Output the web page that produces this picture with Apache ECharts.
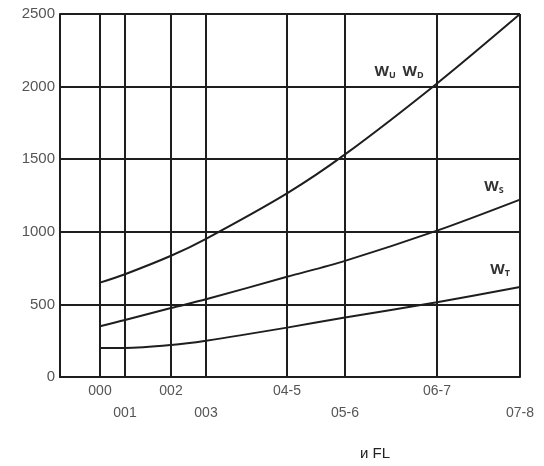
<!DOCTYPE html>
<html>
<head>
<meta charset="utf-8">
<script src="https://cdn.jsdelivr.net/npm/echarts@6/dist/echarts.min.js"></script>
<style>
html,body{margin:0;padding:0;background:#fff}
#chart{width:544px;height:466px}
</style>
</head>
<body>
<div id="chart"></div>
<script>
// x positions of the category lines (arbitrary units)
const tickPos=[40,65,111,146,227,285,377,460]
const tickLabels=['000','001','002','003','04-5','05-6','06-7','07-8']
// curves, values at each tick line
const wuwd=[650,708,835,952,1265,1533,2022,2500]
const ws=[350,392,475,535,690,800,1008,1222]
const wt=[200,200,220,250,340,410,515,620]

const lineColor='#1e1e1e'
const toPairs=arr=>arr.map((v,i)=>[tickPos[i],v])
const subRich={
	w:{fontSize:15,fontWeight:'bold',color:'#333',fontFamily:'Open Sans'},
	s:{fontSize:9,fontWeight:'bold',color:'#333',fontFamily:'Open Sans',padding:[6,0,0,0]}
}
const curveLabel=(coord,text)=>({
	coord:coord,
	symbol:'circle',
	symbolSize:1,
	itemStyle:{color:'transparent'},
	label:{show:true,formatter:text,rich:subRich,position:'inside',color:'#333'}
})
const curveSeries=(arr)=>({
	type:'line',
	data:toPairs(arr),
	smooth:0.3,
	symbol:'none',
	lineStyle:{color:lineColor,width:2}
})

const chart=echarts.init(document.getElementById('chart'))
chart.setOption({
	animation:false,
	grid:{left:60,top:14,right:24,bottom:89,containLabel:false},
	xAxis:{
		type:'value',
		min:0,
		max:460,
		axisLine:{show:true,lineStyle:{color:lineColor,width:2}},
		axisTick:{show:false},
		splitLine:{show:false},
		axisLabel:{
			customValues:tickPos,
			color:'#555',
			fontSize:14,
			fontFamily:'Liberation Sans',
			lineHeight:22,
			margin:3,
			formatter:v=>{
				const i=tickPos.indexOf(v)
				if(i<0) return ''
				return i%2===0?tickLabels[i]:'\n'+tickLabels[i]
			}
		}
	},
	yAxis:{
		type:'value',
		min:0,
		max:2500,
		interval:500,
		axisLine:{show:true,lineStyle:{color:lineColor,width:2}},
		axisTick:{show:false},
		splitLine:{show:true,lineStyle:{color:lineColor,width:2}},
		axisLabel:{color:'#555',fontSize:15,fontFamily:'Liberation Sans',margin:5,formatter:v=>String(v)}
	},
	series:[
		Object.assign(curveSeries(wuwd),{
			markLine:{
				silent:true,
				symbol:'none',
				label:{show:false},
				lineStyle:{color:lineColor,width:2,type:'solid'},
				data:tickPos.map(x=>({xAxis:x}))
			},
			markPoint:{
				data:[curveLabel([339,2100],'{w|W}{s|U}  {w|W}{s|D}')]
			}
		}),
		Object.assign(curveSeries(ws),{
			markPoint:{
				data:[curveLabel([434,1308],'{w|W}{s|S}')]
			}
		}),
		Object.assign(curveSeries(wt),{
			markPoint:{
				data:[curveLabel([440,737],'{w|W}{s|T}')]
			}
		})
	],
	graphic:[{
		type:'text',
		x:375,
		y:454,
		style:{
			text:'и FL',
			fontSize:15,
			fontFamily:'Liberation Sans',
			fill:'#222',
			textAlign:'center',
			textVerticalAlign:'middle'
		}
	}]
})
</script>
</body>
</html>
